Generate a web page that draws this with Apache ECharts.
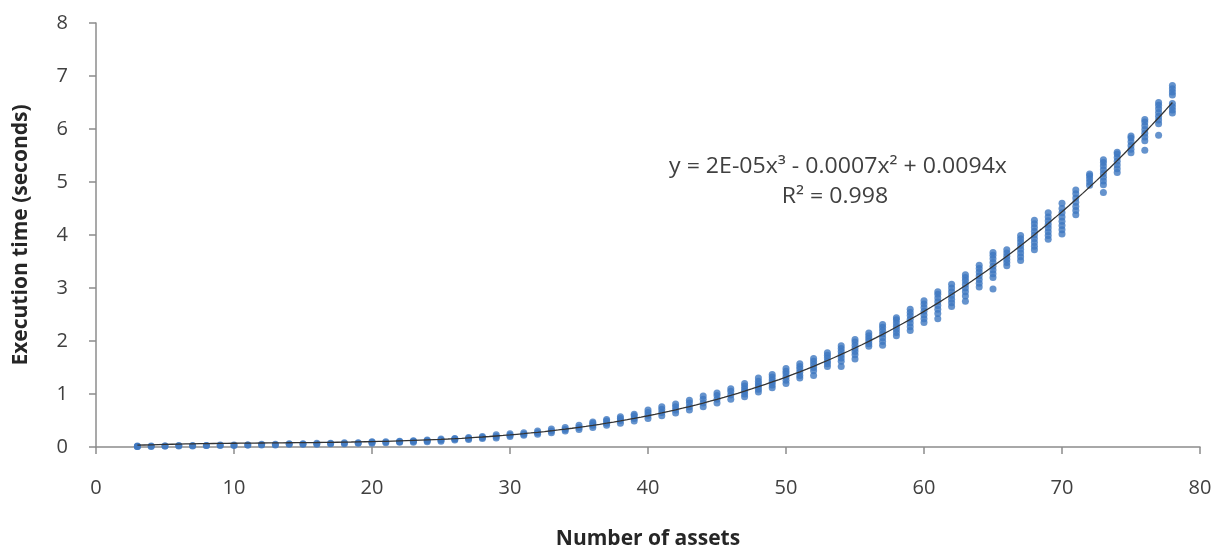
<!DOCTYPE html>
<html>
<head>
<meta charset="utf-8">
<script src="https://cdn.jsdelivr.net/npm/echarts@6/dist/echarts.min.js"></script>
<style>
  html, body { margin: 0; padding: 0; background: #ffffff; }
  #chart { width: 1223px; height: 550px; }
</style>
</head>
<body>
<div id="chart"></div>
<script>
// Number of assets in each benchmark run group
const assetCounts = [
  3, 4, 5, 6, 7, 8, 9, 10, 11, 12, 13, 14, 15, 16, 17, 18, 19, 20, 21, 22, 23, 24, 25, 26, 27, 28, 29,
  30, 31, 32, 33, 34, 35, 36, 37, 38, 39, 40, 41, 42, 43, 44, 45, 46, 47, 48, 49, 50, 51, 52, 53,
  54, 55, 56, 57, 58, 59, 60, 61, 62, 63, 64, 65, 66, 67, 68, 69, 70, 71, 72, 73, 74, 75, 76, 77, 78
];

// Measured execution times (seconds), 3 to 29 assets
const timesSmall = [
  [0.01, 0.01, 0.02], [0.01, 0.02], [0.02, 0.02], [0.02, 0.03], [0.02, 0.03], [0.03, 0.03],
  [0.03, 0.04], [0.03, 0.04], [0.04, 0.04], [0.04, 0.05], [0.04, 0.05], [0.05, 0.06],
  [0.05, 0.06], [0.05, 0.07], [0.06, 0.07], [0.06, 0.08], [0.07, 0.08], [0.07, 0.09, 0.1],
  [0.08, 0.1], [0.09, 0.1, 0.11], [0.09, 0.11, 0.12], [0.1, 0.12, 0.13], [0.11, 0.13, 0.15],
  [0.13, 0.15, 0.16], [0.14, 0.16, 0.18], [0.16, 0.18, 0.2], [0.17, 0.2, 0.23]
];

// Measured execution times (seconds), 30 to 53 assets
const timesMid = [
  [0.2, 0.22, 0.25], [0.22, 0.24, 0.27], [0.24, 0.27, 0.3], [0.27, 0.3, 0.34],
  [0.3, 0.33, 0.37], [0.33, 0.37, 0.41], [0.37, 0.41, 0.45, 0.47], [0.41, 0.45, 0.49, 0.52],
  [0.45, 0.5, 0.54, 0.57], [0.49, 0.54, 0.59, 0.62], [0.54, 0.6, 0.65, 0.7],
  [0.59, 0.65, 0.71, 0.76], [0.64, 0.7, 0.76, 0.81], [0.7, 0.76, 0.83, 0.88],
  [0.76, 0.83, 0.9, 0.96], [0.83, 0.9, 0.97, 1.02], [0.9, 0.98, 1.05, 1.1],
  [0.95, 1.0, 1.05, 1.1, 1.15, 1.2], [1.04, 1.09, 1.14, 1.19, 1.24, 1.3],
  [1.12, 1.17, 1.22, 1.27, 1.32, 1.37], [1.2, 1.26, 1.32, 1.38, 1.43, 1.48],
  [1.3, 1.35, 1.41, 1.47, 1.52, 1.57], [1.35, 1.44, 1.5, 1.56, 1.62, 1.67],
  [1.52, 1.57, 1.62, 1.68, 1.73, 1.78]
];

// Measured execution times (seconds), 54 to 78 assets
const timesLarge = [
  [1.52, 1.62, 1.68, 1.74, 1.8, 1.86, 1.91],
  [1.66, 1.74, 1.8, 1.86, 1.92, 1.98, 2.03],
  [1.9, 1.95, 2.0, 2.05, 2.1, 2.15],
  [1.92, 1.99, 2.06, 2.13, 2.2, 2.26, 2.31],
  [2.1, 2.16, 2.22, 2.28, 2.34, 2.4, 2.44],
  [2.2, 2.27, 2.34, 2.41, 2.48, 2.54, 2.6],
  [2.35, 2.42, 2.49, 2.56, 2.63, 2.7, 2.76],
  [2.42, 2.52, 2.6, 2.67, 2.74, 2.81, 2.88, 2.93],
  [2.65, 2.72, 2.79, 2.86, 2.93, 3.0, 3.07],
  [2.75, 2.85, 2.93, 3.0, 3.07, 3.14, 3.2, 3.25],
  [3.02, 3.09, 3.16, 3.23, 3.3, 3.37, 3.43],
  [2.98, 3.2, 3.27, 3.34, 3.41, 3.48, 3.55, 3.62, 3.67],
  [3.42, 3.48, 3.54, 3.6, 3.66, 3.72],
  [3.52, 3.59, 3.66, 3.73, 3.8, 3.87, 3.93, 3.99],
  [3.72, 3.79, 3.86, 3.93, 4.0, 4.07, 4.14, 4.21, 4.28],
  [3.92, 3.99, 4.06, 4.13, 4.2, 4.27, 4.34, 4.42],
  [4.02, 4.1, 4.18, 4.26, 4.34, 4.42, 4.5, 4.6],
  [4.38, 4.46, 4.54, 4.62, 4.7, 4.78, 4.85],
  [4.94, 5.0, 5.06, 5.12, 5.15],
  [4.8, 4.95, 5.02, 5.09, 5.16, 5.23, 5.3, 5.37, 5.42],
  [5.18, 5.25, 5.32, 5.39, 5.46, 5.53, 5.56],
  [5.55, 5.62, 5.69, 5.76, 5.83, 5.87],
  [5.6, 5.78, 5.85, 5.92, 5.99, 6.06, 6.13, 6.18],
  [5.88, 6.1, 6.17, 6.24, 6.31, 6.38, 6.45, 6.5],
  [6.3, 6.36, 6.42, 6.48, 6.64, 6.7, 6.76, 6.82]
];

// Axis ranges and tick steps
const xAxisRange = [0, 80];
const xTickStep = 10;
const yAxisRange = [0, 8];
const yTickStep = 1;

// Trendline annotation
const equationText = 'y = 2E-05x³ - 0.0007x² + 0.0094x';
const rSquaredText = 'R² = 0.998';

const executionTimes = timesSmall.concat(timesMid, timesLarge);

// Flatten into [assets, seconds] pairs
const points = [];
assetCounts.forEach((n, i) => {
  executionTimes[i].forEach(t => points.push([n, t]));
});

// Least-squares cubic through the origin: y = a*x^3 + b*x^2 + c*x
function fitCubicNoIntercept(pts) {
  const S = [[0, 0, 0], [0, 0, 0], [0, 0, 0]];
  const r = [0, 0, 0];
  pts.forEach(([x, y]) => {
    const f = [x * x * x, x * x, x];
    for (let i = 0; i < 3; i++) {
      r[i] += f[i] * y;
      for (let j = 0; j < 3; j++) S[i][j] += f[i] * f[j];
    }
  });
  // Gaussian elimination with partial pivoting
  const M = S.map((row, i) => row.concat([r[i]]));
  for (let k = 0; k < 3; k++) {
    let p = k;
    for (let i = k + 1; i < 3; i++) if (Math.abs(M[i][k]) > Math.abs(M[p][k])) p = i;
    [M[k], M[p]] = [M[p], M[k]];
    for (let i = k + 1; i < 3; i++) {
      const m = M[i][k] / M[k][k];
      for (let j = k; j < 4; j++) M[i][j] -= m * M[k][j];
    }
  }
  const c = [0, 0, 0];
  for (let i = 2; i >= 0; i--) {
    let s = M[i][3];
    for (let j = i + 1; j < 3; j++) s -= M[i][j] * c[j];
    c[i] = s / M[i][i];
  }
  return c;
}

const coef = fitCubicNoIntercept(points);
const xFirst = assetCounts[0];
const xLast = assetCounts[assetCounts.length - 1];
const trend = [];
for (let x = xFirst; x <= xLast + 1e-9; x += 0.5) {
  trend.push([x, coef[0] * x * x * x + coef[1] * x * x + coef[2] * x]);
}

const axisGray = '#8c8c8c';
const textGray = '#404040';
const fontFamily = '"Open Sans", "Noto Sans", sans-serif';

const chart = echarts.init(document.getElementById('chart'), null, { renderer: 'canvas' });
chart.setOption({
  animation: false,
  backgroundColor: '#ffffff',
  grid: {
    left: 96, right: 23, top: 23, bottom: 103,
    containLabel: false, outerBoundsMode: 'none'
  },
  xAxis: {
    type: 'value',
    min: xAxisRange[0], max: xAxisRange[1], interval: xTickStep,
    name: 'Number of assets',
    nameLocation: 'middle',
    nameGap: 82,
    nameTextStyle: { fontFamily, fontSize: 21, fontWeight: 'bold', color: '#262626' },
    axisLine: { show: true, lineStyle: { color: axisGray, width: 1.5 } },
    axisTick: { show: true, length: 7, inside: false, lineStyle: { color: axisGray, width: 1.5 } },
    axisLabel: { margin: 31, fontFamily, fontSize: 20, color: textGray },
    splitLine: { show: false }
  },
  yAxis: {
    type: 'value',
    min: yAxisRange[0], max: yAxisRange[1], interval: yTickStep,
    name: 'Execution time (seconds)',
    nameLocation: 'middle',
    nameGap: 64,
    nameTextStyle: { fontFamily, fontSize: 21, fontWeight: 'bold', color: '#262626' },
    axisLine: { show: true, lineStyle: { color: axisGray, width: 1.5 } },
    axisTick: { show: true, length: 7, inside: false, lineStyle: { color: axisGray, width: 1.5 } },
    axisLabel: { margin: 28, fontFamily, fontSize: 20, color: textGray },
    splitLine: { show: false }
  },
  graphic: [
    {
      type: 'text', x: 838, y: 167, scaleX: 1.1, z: 100,
      style: {
        text: equationText, fill: textGray, font: '21px "Open Sans", sans-serif',
        textAlign: 'center', textVerticalAlign: 'middle'
      }
    },
    {
      type: 'text', x: 835, y: 197, scaleX: 1.1, z: 100,
      style: {
        text: rSquaredText, fill: textGray, font: '21px "Open Sans", sans-serif',
        textAlign: 'center', textVerticalAlign: 'middle'
      }
    }
  ],
  series: [
    {
      type: 'scatter',
      data: points,
      symbol: 'circle',
      symbolSize: 7,
      itemStyle: { color: '#3f78c1' },
      z: 2
    },
    {
      type: 'line',
      data: trend,
      showSymbol: false,
      smooth: false,
      lineStyle: { color: '#333333', width: 1.3 },
      z: 3
    }
  ]
});
</script>
</body>
</html>
